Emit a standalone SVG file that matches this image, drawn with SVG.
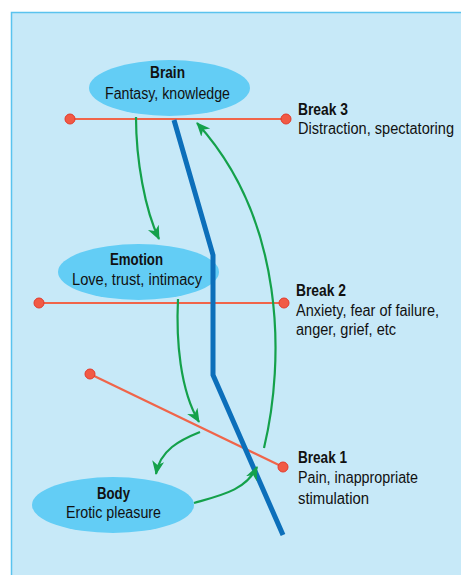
<svg xmlns="http://www.w3.org/2000/svg" width="461" height="575" viewBox="0 0 461 575">
<defs>
<marker id="ah" markerWidth="14" markerHeight="14" viewBox="0 0 14 14" refX="13" refY="7" orient="auto" markerUnits="userSpaceOnUse">
<path d="M0,1 L14,7 L0,13 L4,7 Z" fill="#14a14b"/>
</marker>
<style>
.bg{fill:#c7e9f8;stroke:#5ac3ee;stroke-width:1.5}
.ell{fill:#63cdf5}
.t{font-family:"Liberation Sans",Arial,sans-serif;font-size:16px;fill:#111}
.b{font-weight:bold}
.red{stroke:#f0654a;stroke-width:2.2;fill:none}
.dot{fill:#f15a45;stroke:#e33a2c;stroke-width:1}
.grn{stroke:#14a14b;stroke-width:2.2;fill:none;marker-end:url(#ah)}
.blue{stroke:#0c6fba;stroke-width:5;fill:none}
</style>
</defs>
<rect class="bg" x="11.5" y="12.5" width="460" height="570"/>
<g id="break3">
<line class="red" x1="70" y1="119" x2="286" y2="119"/>
<circle class="dot" cx="70" cy="119" r="5"/>
<circle class="dot" cx="286" cy="119" r="5"/>
<text class="t b" x="298" y="115" textLength="50" lengthAdjust="spacingAndGlyphs">Break 3</text>
<text class="t" x="298" y="134" textLength="156" lengthAdjust="spacingAndGlyphs">Distraction, spectatoring</text>
</g>
<g id="break2">
<line class="red" x1="39" y1="303" x2="284" y2="303"/>
<circle class="dot" cx="39" cy="303" r="5"/>
<circle class="dot" cx="284" cy="303" r="5"/>
<text class="t b" x="296" y="296" textLength="50" lengthAdjust="spacingAndGlyphs">Break 2</text>
<text class="t" x="296" y="316" textLength="143" lengthAdjust="spacingAndGlyphs">Anxiety, fear of failure,</text>
<text class="t" x="296" y="335" textLength="100" lengthAdjust="spacingAndGlyphs">anger, grief, etc</text>
</g>
<g id="break1">
<line class="red" x1="90" y1="374" x2="283" y2="467"/>
<circle class="dot" cx="90" cy="374" r="5"/>
<circle class="dot" cx="283" cy="467" r="5"/>
<text class="t b" x="298" y="463" textLength="49" lengthAdjust="spacingAndGlyphs">Break 1</text>
<text class="t" x="298" y="483" textLength="120" lengthAdjust="spacingAndGlyphs">Pain, inappropriate</text>
<text class="t" x="298" y="504" textLength="71" lengthAdjust="spacingAndGlyphs">stimulation</text>
</g>
<g id="brain">
<ellipse class="ell" cx="169.5" cy="88" rx="80.5" ry="28"/>
<text class="t b" x="150" y="78" textLength="35" lengthAdjust="spacingAndGlyphs">Brain</text>
<text class="t" x="105" y="99" textLength="125" lengthAdjust="spacingAndGlyphs">Fantasy, knowledge</text>
</g>
<g id="emotion">
<ellipse class="ell" cx="138.5" cy="272" rx="80.5" ry="28"/>
<text class="t b" x="110" y="265" textLength="53" lengthAdjust="spacingAndGlyphs">Emotion</text>
<text class="t" x="72" y="285" textLength="130" lengthAdjust="spacingAndGlyphs">Love, trust, intimacy</text>
</g>
<g id="body">
<ellipse class="ell" cx="113" cy="505" rx="81" ry="28"/>
<text class="t b" x="97" y="499" textLength="33" lengthAdjust="spacingAndGlyphs">Body</text>
<text class="t" x="66" y="518" textLength="95" lengthAdjust="spacingAndGlyphs">Erotic pleasure</text>
</g>
<g id="divider">
<polyline class="blue" points="174,120 213,255 213,375 283,535"/>
</g>
<g id="connectors">
<path class="grn" d="M136,117 C136,160 145,210 159,239"/>
<path class="grn" d="M178,299 C176,340 180,390 199,422"/>
<path class="grn" d="M200,432 C180,440 160,450 156,474"/>
<path class="grn" d="M194,503 C222,495 246,490 257,467"/>
<path class="grn" d="M264,448 C285,360 285,220 197,123"/>
</g>
</svg>
